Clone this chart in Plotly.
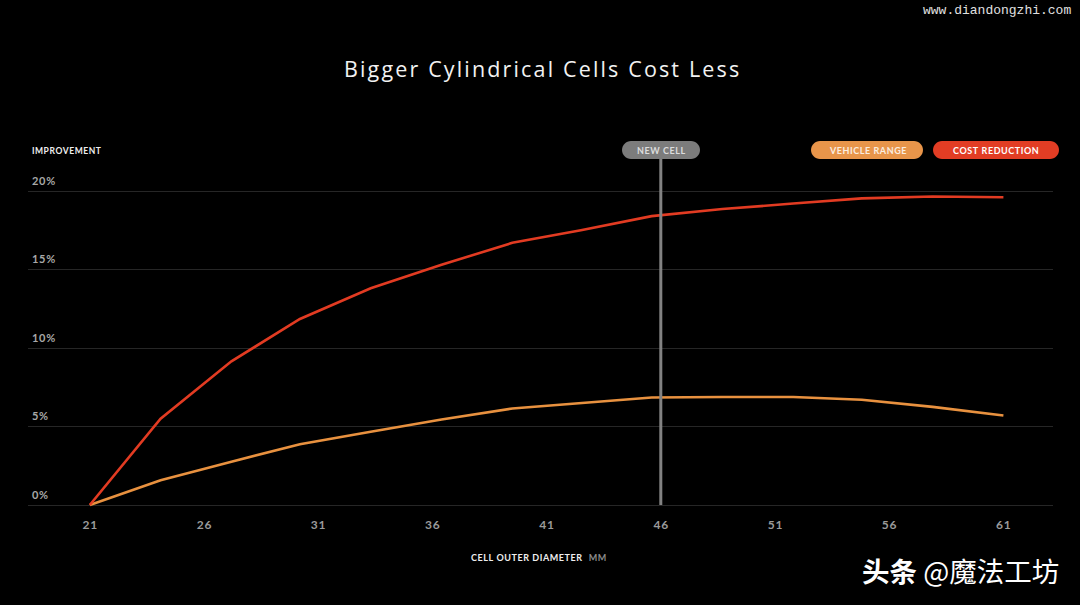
import plotly.graph_objects as go

# ---- data ----
diameter_mm = [21, 24.1, 27.2, 30.2, 33.3, 36.4, 39.5, 42.5, 45.6, 48.7, 51.8, 54.8, 57.9, 61]
cost_reduction = [0, 5.5, 9.15, 11.85, 13.8, 15.3, 16.7, 17.5, 18.4, 18.85, 19.2, 19.53, 19.65, 19.6]
vehicle_range = [0, 1.58, 2.76, 3.87, 4.67, 5.45, 6.15, 6.5, 6.85, 6.88, 6.88, 6.7, 6.25, 5.7]
x_ticks = [21, 26, 31, 36, 41, 46, 51, 56, 61]
y_ticks = [0, 5, 10, 15, 20]
y_tick_labels = ["0%", "5%", "10%", "15%", "20%"]
new_cell_mm = 46

RED = "#E23B22"
ORANGE = "#E8913F"
GRAY = "#828282"

W, H = 1080, 605
L, R, T, B = 28, 27, 150, 95
PW, PH = W - L - R, H - T - B
XS = 22.84   # px per mm
X21 = 89.8   # pixel of 21 mm
YS = 15.7    # px per %


def px(x):
    return (x - L) / PW


def py(y):
    return (H - B - y) / PH


def hs(s):
    return "\u200a".join(s)


def pill(x0, x1, y0, y1, color):
    a0, a1 = px(x0), px(x1)
    b0, b1 = py(y1), py(y0)
    r = (y1 - y0) / 2
    rx = r / PW
    bm = (b0 + b1) / 2
    k = 0.552
    path = (
        f"M {a0+rx},{b1} L {a1-rx},{b1} "
        f"C {a1-rx+rx*k},{b1} {a1},{bm+(b1-bm)*k} {a1},{bm} "
        f"C {a1},{bm-(b1-bm)*k} {a1-rx+rx*k},{b0} {a1-rx},{b0} "
        f"L {a0+rx},{b0} "
        f"C {a0+rx-rx*k},{b0} {a0},{bm-(b1-bm)*k} {a0},{bm} "
        f"C {a0},{bm+(b1-bm)*k} {a0+rx-rx*k},{b1} {a0+rx},{b1} Z"
    )
    return dict(type="path", xref="paper", yref="paper", path=path,
                fillcolor=color, line=dict(width=0), layer="above")


def label(x, y, text, size, color, xanchor="center", family="Lato", weight="bold"):
    return dict(x=px(x), y=py(y), xref="paper", yref="paper", text=text, showarrow=False,
                xanchor=xanchor, yanchor="middle",
                font=dict(family=family, size=size, color=color, weight=weight))


fig = go.Figure()
fig.add_trace(go.Scatter(x=diameter_mm, y=vehicle_range, mode="lines",
                         line=dict(color=ORANGE, width=2.6), name="Vehicle Range"))
fig.add_trace(go.Scatter(x=diameter_mm, y=cost_reduction, mode="lines",
                         line=dict(color=RED, width=2.6), name="Cost Reduction"))

x_lo = 21 - (X21 - L) / XS
x_hi = x_lo + PW / XS
y_lo = -((H - B) - 505) / YS
y_hi = y_lo + PH / YS

shapes = [
    dict(type="line", xref="x", yref="y", x0=new_cell_mm, x1=new_cell_mm,
         y0=0, y1=(505 - 158) / YS, line=dict(color=GRAY, width=3), layer="above"),
    pill(622, 700, 141, 159, "#7c7c7c"),
    pill(811, 923, 141, 159, "#E8954A"),
    pill(933, 1059, 141, 159, "#E23D24"),
]

ann = []
for v, t in zip(y_ticks, y_tick_labels):
    ann.append(dict(x=px(30), y=v, xref="paper", yref="y", text=hs(t), showarrow=False,
                    xanchor="left", yanchor="middle", yshift=11,
                    font=dict(family="Lato", size=11, color="#a8a8a8", weight="bold")))
ann += [
    label(541, 69, hs("Bigger Cylindrical Cells Cost Less"), 21.5, "#f2f2f2",
          family="Open Sans", weight="normal"),
    label(30, 151, hs("IMPROVEMENT"), 8.5, "#eeeeee", xanchor="left"),
    label(661, 150, hs("NEW CELL"), 9, "#dddddd"),
    label(867, 150, hs("VEHICLE RANGE"), 9, "#fbeee0"),
    label(996, 150, hs("COST REDUCTION"), 9, "#ffffff"),
    label(538, 557, hs("CELL OUTER DIAMETER") + "&nbsp;&nbsp;&nbsp;<span style='color:#8a8a8a'>"
          + hs("MM") + "</span>", 9, "#eeeeee"),
    label(1073, 10, "www.diandongzhi.com", 13, "#e0e0e0", xanchor="right",
          family="Liberation Mono", weight="normal"),
    label(1061, 570, "<b>头条</b> @魔法工坊", 27.5, "#ffffff", xanchor="right",
          family="Noto Sans CJK SC", weight="normal"),
]

fig.update_layout(
    width=W, height=H,
    paper_bgcolor="#000000", plot_bgcolor="#000000",
    margin=dict(l=L, r=R, t=T, b=B),
    showlegend=False,
    shapes=shapes, annotations=ann,
    xaxis=dict(range=[x_lo, x_hi], tickvals=x_ticks, ticktext=[hs(str(v)) for v in x_ticks],
               showgrid=False, zeroline=False, showline=False, ticks="",
               ticklabelstandoff=6,
               tickfont=dict(family="Lato", size=12, color="#9a9a9a", weight="bold")),
    yaxis=dict(range=[y_lo, y_hi], tickvals=y_ticks, showticklabels=False,
               showgrid=True, gridcolor="#262626", gridwidth=1, zeroline=False,
               showline=False, ticks=""),
)

fig.write_html("out.html", config={"displayModeBar": False},
               post_script="document.body.style.margin='0';document.body.style.background='#000';")
